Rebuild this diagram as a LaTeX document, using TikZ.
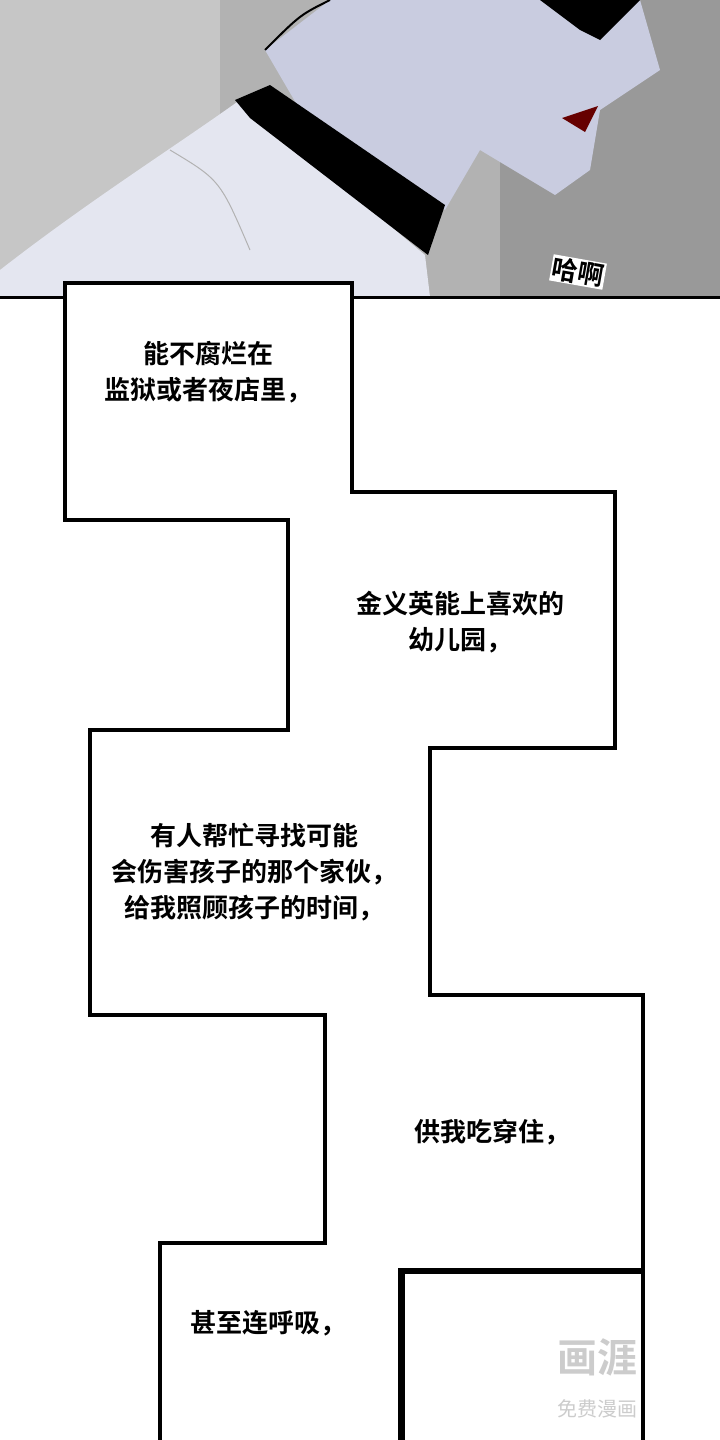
\documentclass[tikz,border=0pt]{standalone}
\usepackage{fontspec}
\newfontfamily\cjk{Noto Sans CJK SC}[BoldFont={Noto Sans CJK SC Bold}]
\definecolor{skin}{HTML}{C9CCE0}
\definecolor{shirt}{HTML}{E4E6F0}
\begin{document}
\begin{tikzpicture}[x=1pt,y=-1pt,
  txt/.style={font=\cjk\bfseries\fontsize{26}{36}\selectfont,align=center,text=black},
  boxo/.style={draw=black,line width=3.5pt,line join=miter},
  boxf/.style={fill=white}]
\useasboundingbox (0,0) rectangle (720,1440);
% top panel
\fill[gray!60] (0,0) rectangle (720,297);
\fill[gray!80] (500,0) rectangle (720,297);
\fill[gray!45] (0,0) rectangle (220,297);
% shirt
\fill[shirt] (0,270) .. controls (90,200) and (170,150) .. (240,100) -- (425,255) -- (430,297) -- (0,297) -- cycle;
\draw[gray!60,line width=1pt] (170,150) .. controls (220,180) .. (250,250);
% face/neck
\fill[skin] (265,50) -- (330,0) -- (640,0) -- (660,70) -- (600,110) -- (590,170) -- (555,195) -- (480,150) -- (445,210) -- (300,110) -- cycle;
\draw[black,line width=2pt] (330,0) .. controls (300,15) .. (265,50);
\fill[black] (540,0) -- (640,0) -- (600,40) -- (580,30) -- cycle;
\fill[red!40!black] (562,118) -- (598,106) -- (585,132) -- cycle;
% collar
\fill[black] (235,100) -- (270,85) -- (445,205) -- (428,255) -- (250,118) -- cycle;
\node[font=\cjk\bfseries\fontsize{26}{26}\selectfont,rotate=-10,text=black,fill=white,inner sep=1pt] (ha) at (578,272) {哈啊};
\draw[line width=3pt] (0,297) -- (720,297);
\fill[white] (0,299) rectangle (720,1440);
% boxes
\foreach \a/\b/\c/\d in {65/283/352/520, 288/492/615/748, 90/730/430/1015, 325/995/643/1270, 160/1243/400/1460, 403/1272/643/1460}
  \draw[boxo] (\a,\b) rectangle (\c,\d);
\foreach \a/\b/\c/\d in {65/283/352/520, 288/492/615/748, 90/730/430/1015, 325/995/643/1270, 160/1243/400/1460, 403/1272/643/1460}
  \fill[boxf] (\a+2,\b+2) rectangle (\c-2,\d-2);
\node[txt] (t1) at (208,372) {能不腐烂在\\监狱或者夜店里，};
\node[txt] (t2) at (460,622) {金义英能上喜欢的\\幼儿园，};
\node[txt] (t3) at (254,872) {有人帮忙寻找可能\\会伤害孩子的那个家伙，\\给我照顾孩子的时间，};
\node[txt] (t4) at (492,1132) {供我吃穿住，};
\node[txt] (t5) at (268,1323) {甚至连呼吸，};
\node[font=\cjk\bfseries\fontsize{40}{40}\selectfont,text=gray!40] (w1) at (597,1357) {画涯};
\node[font=\cjk\fontsize{20}{20}\selectfont,text=gray!40] (w2) at (597,1409) {免费漫画};
\end{tikzpicture}
\end{document}
